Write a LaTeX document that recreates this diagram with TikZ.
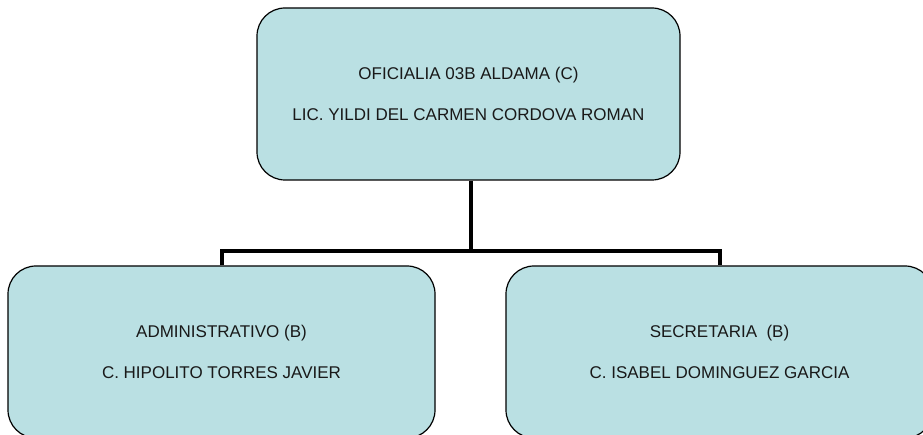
\documentclass[tikz,border=0pt]{standalone}
\usepackage{fontspec}
\setmainfont{Liberation Sans}
\definecolor{boxfill}{RGB}{186,224,227}
\definecolor{txt}{RGB}{25,25,25}
\begin{document}
\begin{tikzpicture}[x=1pt,y=-1pt,
  orgbox/.style={draw=black, line width=1.2pt, fill=boxfill, rounded corners=28pt,
    inner sep=0pt, align=center, text=txt,
    font=\fontsize{17}{41}\selectfont},
  link/.style={draw=black, line width=4pt, line join=miter}]
\useasboundingbox (0,0) rectangle (923,435);
\begin{scope}
\clip (0,0) rectangle (923,435);
\node[orgbox, minimum width=423pt, minimum height=172pt] (top) at (468.5,94)
  {OFICIALIA 03B ALDAMA (C)\\LIC. YILDI DEL CARMEN CORDOVA ROMAN};
\node[orgbox, minimum width=427pt, minimum height=172pt] (left) at (221.5,352)
  {ADMINISTRATIVO (B)\\C. HIPOLITO TORRES JAVIER};
\node[orgbox, minimum width=427pt, minimum height=172pt] (right) at (719.5,352)
  {SECRETARIA~ (B)\\C. ISABEL DOMINGUEZ GARCIA};
\coordinate (hub) at (470.7,251);
\draw[link] (hub |- top.south) -- (hub);
\draw[link] (left.north) |- (hub) -| (right.north);
\end{scope}
\end{tikzpicture}
\end{document}
